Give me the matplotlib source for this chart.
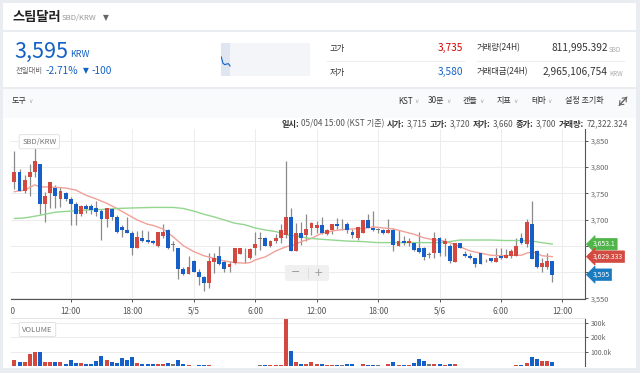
import matplotlib
matplotlib.use('Agg')
import matplotlib.pyplot as plt
from matplotlib.patches import Rectangle, FancyBboxPatch, FancyArrowPatch
import matplotlib.transforms as mtransforms
import numpy as np

plt.rcParams['font.family'] = ['Noto Sans CJK KR', 'DejaVu Sans']

W, H = 640, 373

# ---------------- data ----------------
opens = [3771, 3790, 3755, 3780, 3791, 3805, 3729, 3750, 3760, 3740,
         3750, 3740, 3729, 3710, 3726, 3725, 3721, 3716, 3701, 3720,
         3704, 3686, 3680, 3675, 3646, 3665, 3661, 3659, 3650, 3669,
         3680, 3652, 3645, 3606, 3596, 3621, 3601, 3591, 3580, 3620,
         3631, 3620, 3610, 3617, 3635, 3644, 3626, 3645, 3664, 3665,
         3650, 3659, 3664, 3670, 3705, 3640, 3675, 3670, 3684, 3684,
         3690, 3672, 3680, 3691, 3686, 3691, 3677, 3664, 3675, 3700,
         3684, 3681, 3680, 3675, 3680, 3650, 3659, 3656, 3655, 3645,
         3645, 3633, 3636, 3665, 3654, 3650, 3620, 3655, 3635, 3631,
         3626, 3636, 3623, 3626, 3620, 3631, 3626, 3631, 3631, 3665,
         3654, 3691, 3640, 3610, 3610, 3621]
highs = [3830, 3796, 3785, 3805, 3860, 3805, 3753, 3771, 3766, 3762,
         3753, 3743, 3733, 3728, 3729, 3730, 3735, 3720, 3722, 3722,
         3709, 3690, 3705, 3678, 3678, 3680, 3678, 3661, 3677, 3691,
         3682, 3659, 3646, 3610, 3631, 3622, 3606, 3593, 3636, 3636,
         3650, 3623, 3621, 3645, 3646, 3645, 3645, 3677, 3676, 3667,
         3661, 3672, 3691, 3811, 3722, 3693, 3696, 3711, 3696, 3697,
         3705, 3682, 3691, 3702, 3701, 3696, 3682, 3686, 3699, 3710,
         3716, 3683, 3682, 3701, 3683, 3680, 3669, 3664, 3656, 3676,
         3648, 3639, 3676, 3667, 3665, 3654, 3656, 3656, 3640, 3636,
         3627, 3636, 3625, 3627, 3645, 3645, 3644, 3644, 3665, 3675,
         3701, 3735, 3642, 3626, 3636, 3621]
lows = [3759, 3754, 3750, 3745, 3781, 3710, 3696, 3722, 3722, 3724,
        3735, 3690, 3690, 3706, 3712, 3710, 3707, 3661, 3686, 3699,
        3675, 3667, 3675, 3632, 3645, 3657, 3655, 3653, 3648, 3664,
        3644, 3640, 3587, 3594, 3596, 3601, 3575, 3563, 3570, 3598,
        3613, 3601, 3601, 3615, 3634, 3617, 3625, 3632, 3642, 3650,
        3648, 3656, 3656, 3665, 3640, 3640, 3651, 3660, 3670, 3675,
        3673, 3670, 3672, 3682, 3680, 3674, 3665, 3661, 3675, 3683,
        3678, 3675, 3672, 3675, 3640, 3650, 3651, 3650, 3640, 3636,
        3623, 3627, 3627, 3631, 3631, 3617, 3620, 3645, 3629, 3625,
        3610, 3615, 3620, 3620, 3620, 3625, 3626, 3627, 3631, 3653,
        3648, 3625, 3607, 3600, 3605, 3582]
closes = [3790, 3755, 3775, 3790, 3811, 3729, 3745, 3771, 3745, 3754,
          3740, 3729, 3710, 3726, 3720, 3719, 3715, 3701, 3721, 3704,
          3676, 3680, 3675, 3646, 3667, 3660, 3658, 3655, 3676, 3676,
          3646, 3652, 3606, 3596, 3610, 3601, 3591, 3580, 3621, 3626,
          3615, 3606, 3615, 3645, 3645, 3644, 3644, 3654, 3664, 3650,
          3659, 3665, 3680, 3705, 3640, 3675, 3665, 3681, 3694, 3690,
          3675, 3680, 3691, 3688, 3686, 3680, 3670, 3686, 3699, 3684,
          3680, 3681, 3675, 3680, 3651, 3659, 3656, 3659, 3642, 3639,
          3629, 3633, 3664, 3636, 3660, 3621, 3655, 3646, 3631, 3626,
          3615, 3616, 3623, 3621, 3626, 3626, 3632, 3640, 3650, 3656,
          3696, 3625, 3610, 3617, 3621, 3595]
volumes_k = [41, 27, 27, 81, 97, 97, 27, 27, 30, 27,
             12, 39, 20, 20, 12, 16, 34, 71, 39, 30,
             20, 57, 44, 62, 20, 12, 12, 12, 12, 12,
             22, 12, 39, 15, 10, 3, 10, 10, 10, 2,
             1, 1, 1, 1, 1, 1, 1, 3, 4, 5,
             8, 6, 8, 322, 106, 27, 16, 16, 27, 16,
             12, 8, 8, 8, 8, 16, 12, 1, 12, 8,
             8, 8, 1, 12, 30, 8, 8, 8, 20, 46,
             34, 12, 12, 12, 8, 12, 12, 1, 1, 1,
             1, 1, 1, 1, 1, 1, 1, 1, 5, 5,
             22, 64, 46, 34, 37, 30]

# moving averages (candle number, value)
ma_short_at = [1, 3, 5, 6, 8, 11, 13, 15, 17, 19, 21, 23, 25, 27, 28, 30, 32, 34,
               36, 38, 40, 42, 44, 46, 47, 48, 50, 52, 54, 55, 56, 57, 59, 61, 63,
               65, 67, 69, 71, 73, 75, 77, 79, 81, 83, 84, 86, 88, 90, 92, 94, 96,
               98, 100, 101, 102, 103, 104, 106]
ma_short = [3753, 3756, 3766, 3762, 3762, 3760, 3756, 3746, 3739, 3731, 3721, 3710,
            3699, 3691, 3689, 3682, 3667, 3650, 3639, 3631, 3626, 3621, 3618, 3617,
            3618, 3623, 3629, 3640, 3648, 3650, 3653, 3658, 3664, 3674, 3678, 3681,
            3682, 3683, 3686, 3684, 3682, 3677, 3672, 3665, 3661, 3661, 3656, 3648,
            3640, 3636, 3632, 3631, 3632, 3632, 3636, 3638, 3636, 3631, 3629.333]
ma_long_at = [1, 3, 6, 9, 12, 15, 18, 21, 24, 28, 32, 34, 36, 38, 40, 42, 44, 46,
              48, 50, 52, 54, 55, 56, 58, 60, 63, 66, 69, 72, 75, 78, 81, 84, 86,
              88, 91, 94, 97, 100, 102, 104, 106]
ma_long = [3702, 3703, 3708, 3714, 3716, 3718, 3719, 3721, 3722, 3723, 3723, 3721,
           3716, 3710, 3705, 3699, 3693, 3690, 3684, 3680, 3677, 3672, 3669, 3669,
           3665, 3663, 3661, 3659, 3658, 3656, 3656, 3656, 3656, 3656, 3658, 3661,
           3661, 3661, 3660, 3660, 3659, 3656, 3653.1]

time_ticks = [-1, 11, 23, 35, 47, 59, 71, 83, 95, 107]
time_labels = ['6:00', '12:00', '18:00', '5/5', '6:00', '12:00', '18:00', '5/6', '6:00', '12:00']
price_ticks = [3550, 3600, 3650, 3700, 3750, 3800, 3850]
vol_ticks = [100, 200, 300]
vol_labels = ['100.0k', '200k', '300k']

RED = '#d4493f'
BLUE = '#1560c8'
UPBIT_BLUE = '#1261c4'
UPBIT_RED = '#d60000'

# ---------------- figure ----------------
fig = plt.figure(figsize=(W / 100, H / 100), dpi=100)
fig.patch.set_facecolor('#e9ecf1')


def rect(x0, y0, x1, y1, **kw):
    kw.setdefault('zorder', -10)
    fig.add_artist(Rectangle((x0 / W, 1 - y1 / H), (x1 - x0) / W, (y1 - y0) / H,
                             transform=fig.transFigure, **kw))


def hline(x0, x1, y, color='#eeeeee', lw=0.8):
    fig.add_artist(plt.Line2D([x0 / W, x1 / W], [1 - y / H, 1 - y / H],
                              transform=fig.transFigure, color=color, lw=lw, zorder=-5))


def txt(x, y, s, **kw):
    kw.setdefault('va', 'center')
    return fig.text(x / W, 1 - y / H, s, **kw)


rect(3, 3, 636, 30, fc='white', ec='none')
rect(3, 32, 636, 87, fc='white', ec='none')
rect(3, 89, 636, 118, fc='#f9fafc', ec='none')
rect(3, 118, 636, 368, fc='white', ec='none')

# title row
txt(12, 17, '스팀달러', fontsize=9.5, weight='bold', color='#222222')
txt(62, 18, 'SBD/KRW', fontsize=5.6, color='#999999')
txt(106, 18, '▼', fontsize=5.5, color='#666666', ha='center', family='DejaVu Sans')

# price block
txt(14, 58, '3,595', fontsize=15.5, color=UPBIT_BLUE, va='baseline')
txt(70, 57, 'KRW', fontsize=6.5, color=UPBIT_BLUE, va='baseline')
txt(16, 71, '전일대비', fontsize=5.3, color='#666666')
txt(46, 71, '-2.71%', fontsize=7.3, color=UPBIT_BLUE)
txt(83, 71, '▼', fontsize=5.5, color=UPBIT_BLUE, family='DejaVu Sans')
txt(92, 71, '-100', fontsize=7.3, color=UPBIT_BLUE)

# sparkline
sp = fig.add_axes([220.7 / W, 1 - 76 / H, (310 - 220.7) / W, (76 - 43.3) / H])
sp.set_facecolor('#f4f5f8')
n_today = 6
sp.axvspan(0, n_today - 1 + 0.2, color='#dfe6f2', lw=0)
sp.plot(np.arange(n_today) * 0.95 + 0.3, closes[-n_today:], color=UPBIT_BLUE, lw=0.8)
sp.set_xlim(0, 48)
sp.set_ylim(3483, 3849)
sp.set_xticks([])
sp.set_yticks([])
for s in sp.spines.values():
    s.set_visible(False)

# high/low block
txt(330, 48, '고가', fontsize=6, color='#333333')
txt(463, 48, '3,735', fontsize=7.3, color=UPBIT_RED, ha='right')
hline(327, 464, 61)
txt(330, 72, '저가', fontsize=6, color='#333333')
txt(463, 72, '3,580', fontsize=7.3, color=UPBIT_BLUE, ha='right')
txt(477, 48, '거래량(24H)', fontsize=6, color='#333333')
txt(608, 48, '811,995.392', fontsize=7.3, color='#333333', ha='right')
txt(609, 49.5, 'SBD', fontsize=4.6, color='#aaaaaa')
hline(477, 624, 61)
txt(477, 72, '거래대금(24H)', fontsize=6, color='#333333')
txt(608, 72, '2,965,106,754', fontsize=7.3, color='#333333', ha='right')
txt(609, 73.5, 'KRW', fontsize=4.6, color='#aaaaaa')

# ---------------- price panel ----------------
x = np.arange(len(closes))
o = np.array(opens, float)
h = np.array(highs, float)
l = np.array(lows, float)
c = np.array(closes, float)
cols = np.where(c > o, RED, np.where(c < o, BLUE, '#777777'))

ax = fig.add_axes([10.7 / W, 1 - 299 / H, (585 - 10.7) / W, (299 - 129) / H])
ax.patch.set_alpha(0)
ax.set_xlim(-0.72, 111.4)
ax.set_ylim(3548.7, 3872.3)
ax.set_axisbelow(True)
ax.grid(True, color='#ececec', lw=0.7)
ax.vlines(x, l, h, color='#8a8a8a', lw=0.9, zorder=2)
body = np.maximum(np.abs(c - o), 1.2)
bottom = (o + c) / 2 - body / 2
ax.bar(x, body, bottom=bottom, width=0.76, color=cols, lw=0, zorder=3)
ax.plot(np.array(ma_short_at) - 1, ma_short, color='#f0a198', lw=1.0, zorder=2.6)
ax.plot(np.array(ma_long_at) - 1, ma_long, color='#93d68f', lw=1.0, zorder=2.6)

for side in ['left', 'top']:
    ax.spines[side].set_visible(False)
for side in ['right', 'bottom']:
    ax.spines[side].set_color('#555555')
    ax.spines[side].set_linewidth(0.8)
ax.yaxis.tick_right()

tag_vals = [ma_long[-1], ma_short[-1], closes[-1]]
ax.set_yticks(price_ticks)
ax.set_yticklabels([('' if min(abs(p - v) for v in tag_vals) < 18 else f'{p:,}') for p in price_ticks])
ax.set_xticks(time_ticks[1:])
ax.set_xticklabels(time_labels[1:])
ax.tick_params(axis='y', length=2.5, width=0.7, color='#555555', labelsize=5.3,
               labelcolor='#666666', pad=1.5)
ax.tick_params(axis='x', length=2.5, width=0.7, color='#555555', labelsize=5.8,
               labelcolor='#555555', pad=3)

# toolbar (chevrons chained to the item texts)
for name, x0 in [('도구', 12), ('KST', 398), ('30분', 428), ('캔들', 463), ('지표', 497), ('테마', 531)]:
    t = txt(x0, 101, name, fontsize=5.8, color='#333333')
    ax.annotate('∨', xy=(1, 0.5), xycoords=t, xytext=(1.2, -0.5), textcoords='offset points',
                fontsize=4.3, color='#aaaaaa', ha='left', va='center', family='DejaVu Sans',
                annotation_clip=False)
txt(565, 101, '설정 초기화', fontsize=5.8, color='#333333')
fig.add_artist(FancyArrowPatch((619 / W, 1 - 105.5 / H), (627 / W, 1 - 97 / H),
                               transform=fig.transFigure, arrowstyle='->,head_length=1.2,head_width=1.0',
                               color='#666666', lw=0.8, mutation_scale=2, shrinkA=0, shrinkB=0))
fig.add_artist(FancyArrowPatch((627 / W, 1 - 97 / H), (619 / W, 1 - 105.5 / H),
                               transform=fig.transFigure, arrowstyle='->,head_length=1.2,head_width=1.0',
                               color='#666666', lw=0.8, mutation_scale=2, shrinkA=0, shrinkB=0))

# clipped first time label
blend = mtransforms.blended_transform_factory(ax.transData, ax.transAxes)
first = ax.text(time_ticks[0] - 0.3, -0.072, time_labels[0], transform=blend, ha='center',
                va='center', fontsize=5.8, color='#555555')
clip = Rectangle((10.7 / W, 0), 1, 1, transform=fig.transFigure)
first.set_clip_path(clip)
first.set_clip_on(True)

# value tags on the right
yblend = mtransforms.blended_transform_factory(ax.transAxes, ax.transData)
for val, label, color in [(ma_long[-1], f'{ma_long[-1]:,.1f}', '#4fb548'),
                          (ma_short[-1], f'{ma_short[-1]:,.3f}', '#d24a40'),
                          (closes[-1], f'{closes[-1]:,}', '#1b7bc0')]:
    ax.annotate(label, xy=(1.0, val), xycoords=yblend, xytext=(5.5, 0),
                textcoords='offset points', ha='left', va='center', fontsize=5.0,
                color='white', annotation_clip=False, zorder=10,
                bbox=dict(boxstyle='larrow,pad=0.25', fc=color, ec=color, lw=0.5))

# SBD/KRW label box
ax.text(0.02, 0.925, 'SBD/KRW', transform=ax.transAxes, fontsize=5.5, color='#777777',
        ha='left', va='center', zorder=11,
        bbox=dict(boxstyle='round,pad=0.4,rounding_size=0.2', fc='white', ec='#dddddd', lw=0.6))

# zoom buttons
zb = FancyBboxPatch((285 / W, 1 - 281 / H), 44 / W, 16 / H,
                    boxstyle='round,pad=0,rounding_size=0.004', transform=fig.transFigure,
                    fc='#eeeeee', ec='none', alpha=0.85, zorder=5)
fig.add_artist(zb)
txt(296, 272.5, '−', fontsize=8, color='#999999', ha='center', family='DejaVu Sans', zorder=6)
txt(318, 272.5, '+', fontsize=8, color='#999999', ha='center', family='DejaVu Sans', zorder=6)
fig.add_artist(plt.Line2D([307.5 / W, 307.5 / W], [1 - 268 / H, 1 - 278 / H],
                          transform=fig.transFigure, color='#dddddd', lw=0.7, zorder=6))

# info line (right aligned, chained right to left)
segments = [('일시:', True), ('05/04 15:00 (KST 기준)', False), ('시가:', True), ('3,715', False),
            ('고가:', True), ('3,720', False), ('저가:', True), ('3,660', False),
            ('종가:', True), ('3,700', False), ('거래량:', True), ('72,322.324', False)]
prev = None
for s, bold in reversed(segments):
    kw = dict(fontsize=5.9, color='#333333' if bold else '#555555',
              weight='bold' if bold else 'normal', ha='right', va='center')
    if prev is None:
        prev = txt(628, 124, s, **kw)
    else:
        prev = ax.annotate(s, xy=(0, 0.5), xycoords=prev, xytext=(-1.7, 0),
                           textcoords='offset points', annotation_clip=False, **kw)

# ---------------- volume panel ----------------
vax = fig.add_axes([10.7 / W, 1 - 366 / H, (585 - 10.7) / W, (366 - 318) / H])
vax.patch.set_alpha(0)
vax.set_xlim(-0.72, 111.4)
vax.set_ylim(0, 332)
vax.set_axisbelow(True)
vax.grid(True, axis='y', color='#ececec', lw=0.7)
vax.bar(x, volumes_k, width=0.78, color=cols, lw=0)
vax.spines['left'].set_visible(False)
vax.spines['bottom'].set_visible(False)
vax.spines['top'].set_color('#e6e6e6')
vax.spines['top'].set_linewidth(0.8)
vax.spines['right'].set_color('#555555')
vax.spines['right'].set_linewidth(0.8)
vax.spines['right'].set_bounds(0, 322)
vax.yaxis.tick_right()
vax.set_yticks(vol_ticks)
vax.set_yticklabels(vol_labels)
vax.set_xticks([])
vax.tick_params(axis='y', length=2.5, width=0.7, color='#555555', labelsize=5.0,
                labelcolor='#666666', pad=1.5)
vax.text(0.02, 0.76, 'VOLUME', transform=vax.transAxes, fontsize=5.5, color='#777777',
         ha='left', va='center', zorder=11,
         bbox=dict(boxstyle='round,pad=0.4,rounding_size=0.2', fc='white', ec='#dddddd', lw=0.6))

fig.savefig('out.png', dpi=100)
